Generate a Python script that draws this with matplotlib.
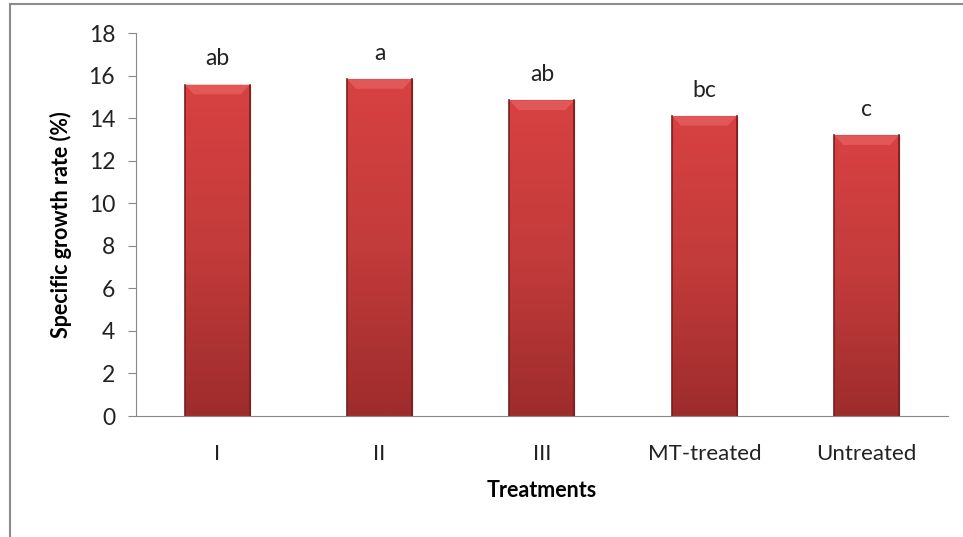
import numpy as np
import matplotlib
matplotlib.use('Agg')
import matplotlib.pyplot as plt
from matplotlib.lines import Line2D
from matplotlib.colors import LinearSegmentedColormap

treatments = ['I', 'II', 'III', 'MT-treated', 'Untreated']
growth_rate = [15.57, 15.83, 14.83, 14.1, 13.19]
letters = ['ab', 'a', 'ab', 'bc', 'c']

plt.rcParams['font.family'] = ['Lato', 'DejaVu Sans']

fig = plt.figure(figsize=(9.63, 5.37), dpi=100)
ax = fig.add_axes([0.1412, 0.2253, 0.8432, 0.7132])

x = np.arange(len(treatments))
bars = ax.bar(x, growth_rate, width=0.4, color='#c23b3b', edgecolor='#8e2626', linewidth=0.8, zorder=2)

# vertical red gradient inside each bar
cmap = LinearSegmentedColormap.from_list('redgrad', ['#9e2c2c', '#c33b3b', '#d84141'])
grad = np.linspace(0, 1, 256).reshape(-1, 1)
for b in bars:
    x0, w, h = b.get_x(), b.get_width(), b.get_height()
    im = ax.imshow(grad, cmap=cmap, origin='lower', aspect='auto',
                   extent=[x0, x0 + w, 0, h], zorder=2.5)
    im.set_clip_path(b)
    # light bevel at top
    ax.fill([x0, x0 + w, x0 + w * 0.86, x0 + w * 0.14],
            [h, h, h - 0.45, h - 0.45], color='#e25858', lw=0, zorder=3)
    ax.plot([x0, x0], [0, h], color='#7a1f1f', lw=1.2, zorder=3)
    ax.plot([x0 + w, x0 + w], [0, h], color='#7a1f1f', lw=1.2, zorder=3)

for xi, v, lab in zip(x, growth_rate, letters):
    ax.annotate(lab, (xi, v), xytext=(0, 11), textcoords='offset points',
                ha='center', va='bottom', fontsize=16.5, color='#222222')

ax.set_xlim(-0.5, len(treatments) - 0.5)
ax.set_ylim(0, 18)
ax.set_yticks(range(0, 19, 2))
ax.set_xticks(x)
ax.set_xticklabels(treatments)
ax.tick_params(axis='y', direction='out', length=6, color='#888888', labelsize=16.5, labelcolor='#222222', pad=9)
ax.tick_params(axis='x', length=0, labelsize=16, labelcolor='#222222', pad=20)

for s in ['top', 'right']:
    ax.spines[s].set_visible(False)
ax.spines['left'].set_color('#888888')
ax.spines['bottom'].set_color('#888888')

ax.set_ylabel('Specific growth rate (%)', fontsize=15.5, fontweight='bold', labelpad=12)
ax.set_xlabel('Treatments', fontsize=15.5, fontweight='bold', labelpad=12)

# outer chart frame (cropped at right and bottom)
fig.add_artist(Line2D([9.5 / 963, 9.5 / 963], [0, 1 - 3.5 / 537], color='#8c8c8c', lw=1.5, transform=fig.transFigure))
fig.add_artist(Line2D([9.5 / 963, 1], [1 - 3.5 / 537, 1 - 3.5 / 537], color='#8c8c8c', lw=1.5, transform=fig.transFigure))

plt.savefig('out.png', dpi=100)
